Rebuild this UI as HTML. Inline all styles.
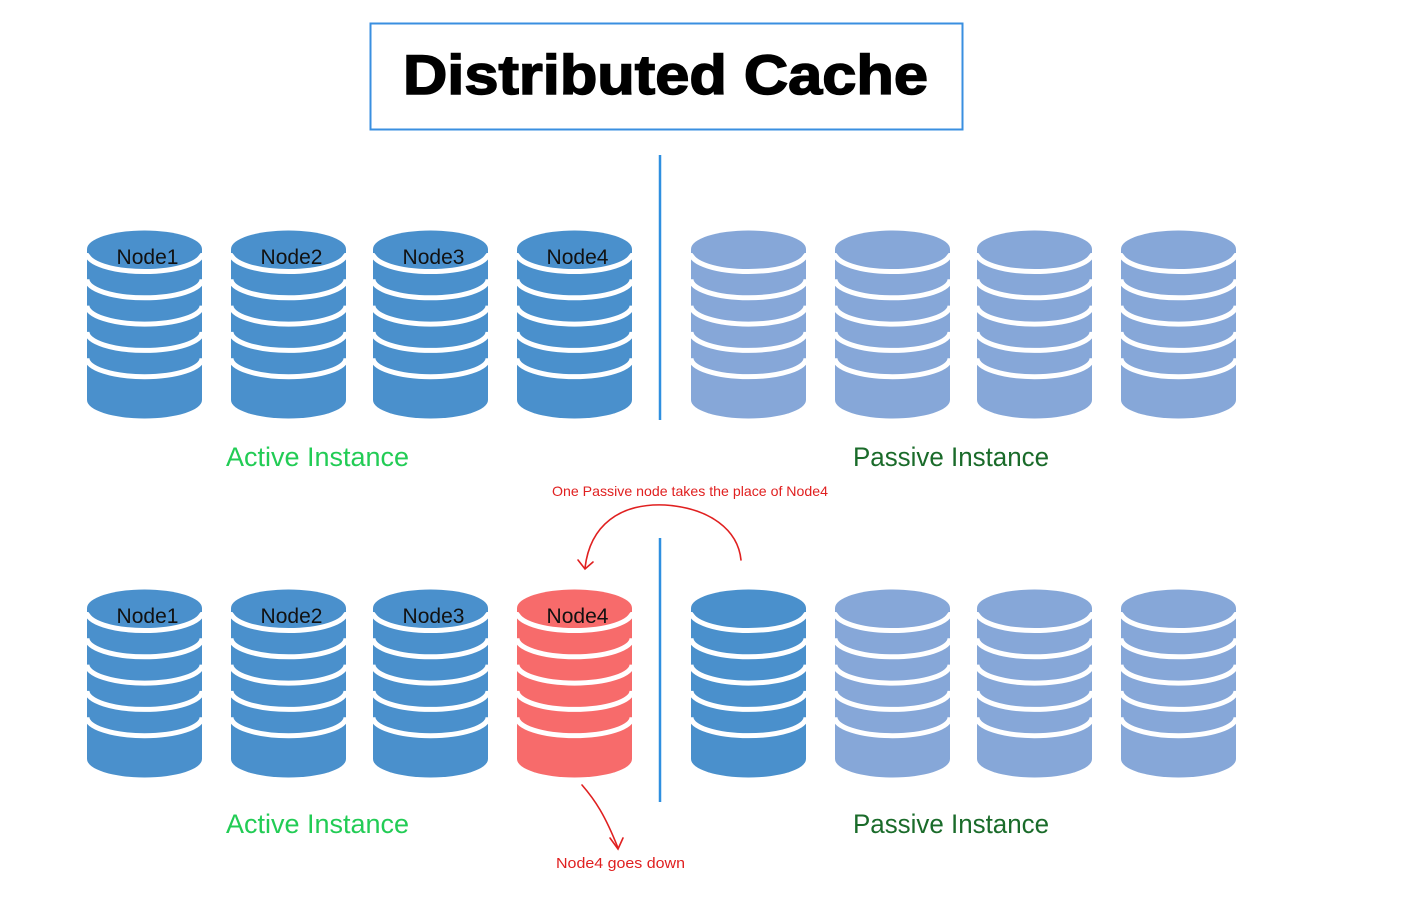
<!DOCTYPE html>
<html><head><meta charset="utf-8"><style>
html,body{margin:0;padding:0;background:#fff;}
svg{display:block;}
text{font-family:"Liberation Sans",sans-serif;}
</style></head><body>
<svg id="s" width="1424" height="900" viewBox="0 0 1424 900" xmlns="http://www.w3.org/2000/svg">
<rect x="370.5" y="23.5" width="592" height="106" fill="none" stroke="#3a8fe0" stroke-width="2"/>
<text x="403" y="94" font-size="56" font-weight="bold" textLength="525" lengthAdjust="spacingAndGlyphs" fill="#000" stroke="#000" stroke-width="1.5">Distributed Cache</text>
<line x1="660" y1="155" x2="660" y2="420" stroke="#2e8fe0" stroke-width="2.5"/>
<line x1="660" y1="538" x2="660" y2="802" stroke="#2e8fe0" stroke-width="2.5"/>
<g id="cyl"></g>
<text x="226" y="466" font-size="27" textLength="183" lengthAdjust="spacingAndGlyphs" fill="#22cc55">Active Instance</text>
<text x="853" y="466" font-size="27" textLength="196" lengthAdjust="spacingAndGlyphs" fill="#1a6b2a">Passive Instance</text>
<text x="226" y="833" font-size="27" textLength="183" lengthAdjust="spacingAndGlyphs" fill="#22cc55">Active Instance</text>
<text x="853" y="833" font-size="27" textLength="196" lengthAdjust="spacingAndGlyphs" fill="#1a6b2a">Passive Instance</text>
<text x="552" y="496" font-size="14" textLength="276" lengthAdjust="spacingAndGlyphs" fill="#e02020">One Passive node takes the place of Node4</text>
<text x="556" y="868" font-size="15" textLength="129" lengthAdjust="spacingAndGlyphs" fill="#e02020">Node4 goes down</text>
<g fill="none" stroke="#e02020" stroke-width="1.6" stroke-linecap="round">
<path d="M741 560 C738 530 710 508 665 505 C620 503 590 525 585 568"/>
<path d="M578 560 L585 569 L593 562"/>
<path d="M582 785 C595 800 605 815 618 848"/>
<path d="M610 838 L618 849 L623 838"/>
</g>
</svg>
<script>
var g=document.getElementById('cyl'),h='';
function cyl(x,y,c,label){
 var w=115,rx=w/2,cx=x+rx,ry=18.5,top=y+17,bot=top+151;
 h+='<path d="M'+x+' '+top+' L'+x+' '+bot+' A'+rx+' '+ry+' 0 0 0 '+(x+w)+' '+bot+' L'+(x+w)+' '+top+' Z" fill="'+c+'"/>';
 for(var k=0;k<5;k++){var yy=top+4+k*26.3;
  h+='<path d="M'+x+' '+yy+' A'+rx+' '+ry+' 0 0 0 '+(x+w)+' '+yy+'" fill="none" stroke="#fff" stroke-width="5"/>';}
 h+='<ellipse cx="'+cx+'" cy="'+top+'" rx="'+rx+'" ry="'+ry+'" fill="'+c+'"/>';
 if(label)h+='<text x="'+(cx+3)+'" y="'+(top+15)+'" font-size="21" text-anchor="middle" fill="#111">'+label+'</text>';
}
var xs=[87,231,373,517,691,835,977,1121],A='#4a90cc',P='#86a7d8',R='#f76b6b';
for(var i=0;i<8;i++){cyl(xs[i],232,i<4?A:P,i<4?'Node'+(i+1):'');}
for(var i=0;i<8;i++){var c=i<3?A:(i==3?R:(i==4?A:P));cyl(xs[i],591,c,i<4?'Node'+(i+1):'');}
g.innerHTML=h;
</script>
</body></html>
